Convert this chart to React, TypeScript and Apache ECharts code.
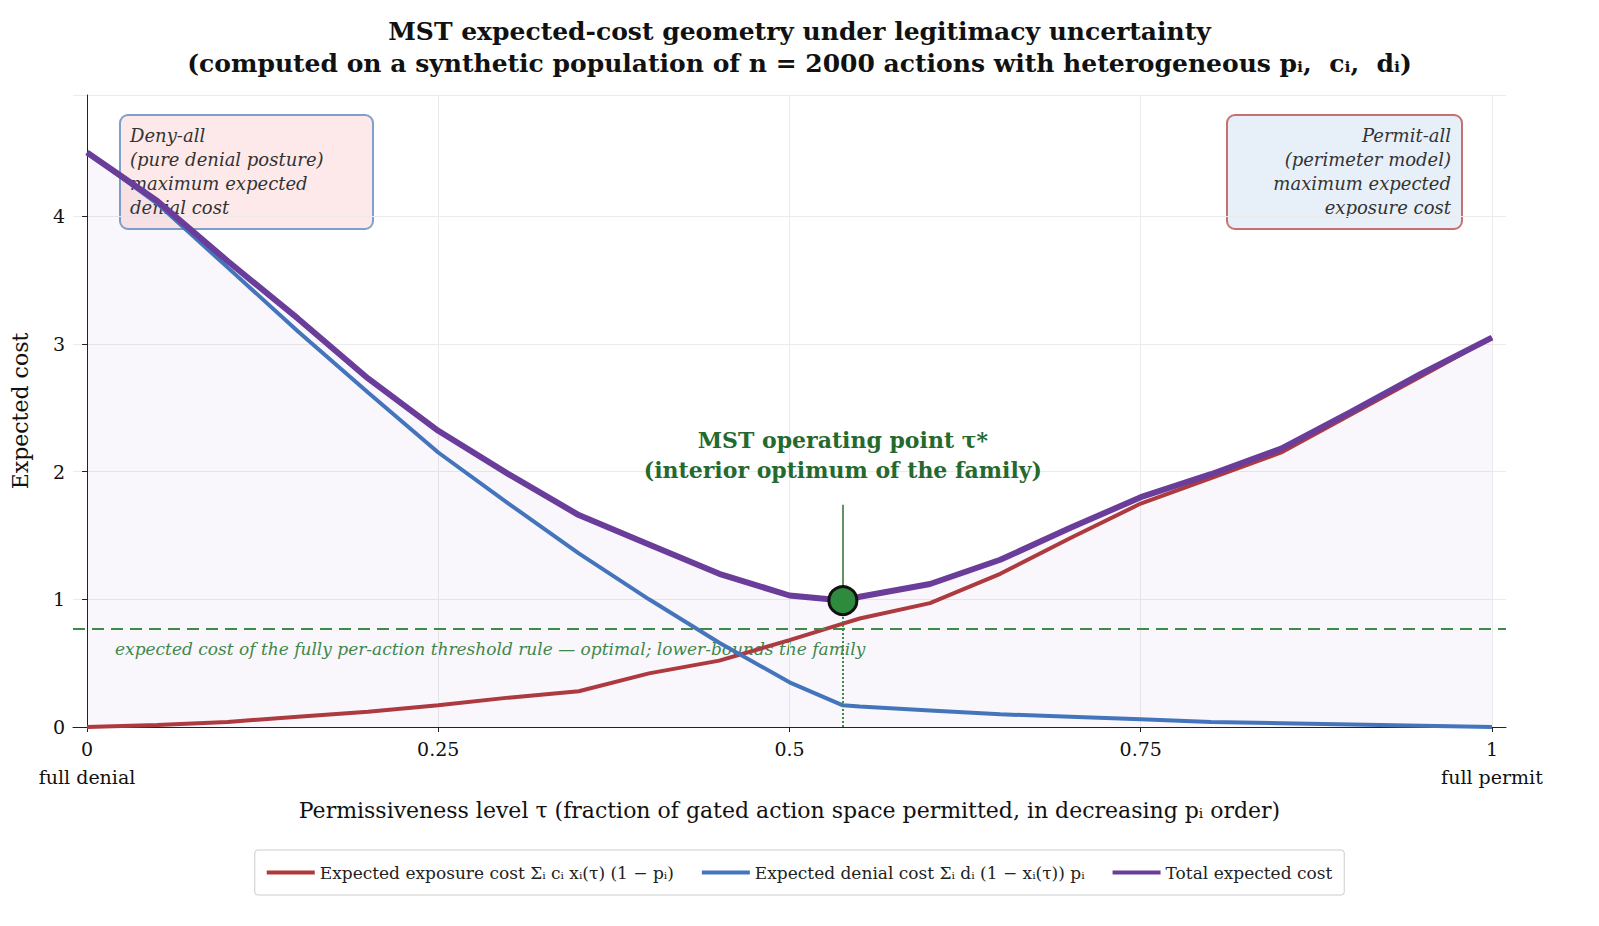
import React, { useEffect, useRef } from 'react';
import * as echarts from 'echarts';

const tau = [0, 0.05, 0.1, 0.15, 0.2, 0.25, 0.3, 0.35, 0.4, 0.45, 0.5, 0.538, 0.55, 0.6, 0.65, 0.7, 0.75, 0.8, 0.85, 0.9, 0.95, 1.0];
const exposure = [0, 0.015, 0.04, 0.08, 0.12, 0.17, 0.23, 0.28, 0.42, 0.52, 0.68, 0.81, 0.85, 0.97, 1.2, 1.48, 1.75, 1.95, 2.15, 2.45, 2.75, 3.05];
const denial = [4.5, 4.1, 3.6, 3.1, 2.62, 2.15, 1.75, 1.36, 1.0, 0.66, 0.35, 0.17, 0.16, 0.13, 0.1, 0.08, 0.06, 0.04, 0.03, 0.02, 0.01, 0];
const total = [4.5, 4.12, 3.65, 3.2, 2.73, 2.32, 1.98, 1.66, 1.43, 1.2, 1.03, 0.99, 1.02, 1.12, 1.31, 1.56, 1.8, 1.98, 2.18, 2.47, 2.77, 3.05];
const tauStar = 0.538;
const costStar = 0.99;
const thresholdCost = 0.77;
const xTicks = [0, 0.25, 0.5, 0.75, 1];

const FONT = '"DejaVu Serif", serif';

export default function App() {
  const ref = useRef<HTMLDivElement>(null);

  useEffect(() => {
    if (!ref.current) return;
    const chart = echarts.init(ref.current, undefined, { renderer: 'svg' });
    const pts = (ys: number[]) => tau.map((t, i) => [t, ys[i]]);

    chart.setOption({
      animation: false,
      textStyle: { fontFamily: FONT },
      title: {
        text: 'MST expected-cost geometry under legitimacy uncertainty\n(computed on a synthetic population of n = 2000 actions with heterogeneous pᵢ,  cᵢ,  dᵢ)',
        left: 'center',
        top: 2,
        textStyle: { fontFamily: FONT, fontSize: 25, fontWeight: 'bold', color: '#111', lineHeight: 32 },
      },
      grid: { left: 65, right: 85, top: 87, bottom: 191, outerBoundsMode: 'none' },
      legend: {
        bottom: 23,
        left: 'center',
        itemWidth: 48,
        itemHeight: 4,
        itemGap: 28,
        padding: [14, 12],
        borderColor: '#ccc',
        borderWidth: 1,
        borderRadius: 3,
        icon: 'rect',
        textStyle: { fontFamily: FONT, fontSize: 17, color: '#222' },
        data: ['exp', 'den', 'tot'],
        formatter: (n: string) =>
          n === 'exp'
            ? 'Expected exposure cost Σᵢ cᵢ xᵢ(τ) (1 − pᵢ)'
            : n === 'den'
            ? 'Expected denial cost Σᵢ dᵢ (1 − xᵢ(τ)) pᵢ'
            : 'Total expected cost',
      },
      xAxis: {
        type: 'value',
        min: -0.01,
        max: 1.01,
        name: 'Permissiveness level τ (fraction of gated action space permitted, in decreasing pᵢ order)',
        nameLocation: 'middle',
        nameGap: 72,
        nameTextStyle: { fontFamily: FONT, fontSize: 22, color: '#111' },
        axisLine: { lineStyle: { color: '#222' } },
        axisTick: { customValues: xTicks, lineStyle: { color: '#222' } },
        axisLabel: {
          customValues: xTicks,
          fontSize: 19,
          color: '#111',
          lineHeight: 28,
          formatter: (v: number) =>
            v === 0 ? '0\nfull denial' : v === 1 ? '1\nfull permit' : String(v),
        },
        splitLine: { show: true, lineStyle: { color: '#ebebeb' } },
      },
      yAxis: {
        type: 'value',
        min: 0,
        max: 4.95,
        interval: 1,
        name: 'Expected cost',
        nameLocation: 'middle',
        nameGap: 42,
        nameTextStyle: { fontFamily: FONT, fontSize: 22, color: '#111' },
        axisLine: { show: true, lineStyle: { color: '#222' } },
        axisTick: { show: true, lineStyle: { color: '#222' } },
        axisLabel: { fontSize: 19, color: '#111', showMaxLabel: false },
        splitLine: { lineStyle: { color: '#ebebeb' } },
      },
      series: [
        {
          name: 'tot',
          type: 'line',
          data: pts(total),
          symbol: 'none',
          z: 4,
          lineStyle: { color: '#6a3d9a', width: 6 },
          itemStyle: { color: '#6a3d9a' },
          areaStyle: { color: 'rgba(106,61,154,0.06)' },
        },
        {
          name: 'exp',
          type: 'line',
          data: pts(exposure),
          symbol: 'none',
          z: 3,
          lineStyle: { color: '#b03a3a', width: 4 },
          itemStyle: { color: '#b03a3a' },
        },
        {
          name: 'den',
          type: 'line',
          data: pts(denial),
          symbol: 'none',
          z: 3,
          lineStyle: { color: '#4277bd', width: 4 },
          itemStyle: { color: '#4277bd' },
          markLine: {
            silent: true,
            symbol: 'none',
            label: { show: false },
            data: [
              { yAxis: thresholdCost, lineStyle: { color: '#3d8a4a', type: [12, 7], width: 2 } },
              [
                { coord: [tauStar, 0], lineStyle: { color: '#3d8a4a', type: 'dotted', width: 2 } },
                { coord: [tauStar, costStar] },
              ],
              [
                { coord: [tauStar, costStar], lineStyle: { color: '#2e6b34', type: 'solid', width: 1.5 } },
                { coord: [tauStar, 1.74] },
              ],
            ],
          },
        },
        {
          type: 'scatter',
          data: [[tauStar, costStar]],
          symbolSize: 28,
          z: 10,
          itemStyle: { color: '#2e8b3e', borderColor: '#111', borderWidth: 3, opacity: 1 },
          label: {
            show: true,
            position: 'top',
            distance: 100,
            formatter: 'MST operating point τ*\n(interior optimum of the family)',
            fontFamily: FONT,
            fontSize: 22,
            fontWeight: 'bold',
            color: '#25692f',
            opacity: 1,
            lineHeight: 30,
            align: 'center',
          },
        },
      ],
      graphic: [
        {
          type: 'text',
          left: 107,
          top: 632,
          style: {
            text: 'expected cost of the fully per-action threshold rule — optimal; lower-bounds the family',
            font: `italic 17px ${FONT}`,
            fill: '#3d8a4a',
          },
        },
        {
          type: 'group',
          left: 111,
          top: 106,
          children: [
            { type: 'rect', shape: { width: 253, height: 114, r: 8 }, style: { fill: 'rgba(253,232,232,0.95)', stroke: '#7ea0cc', lineWidth: 2 } },
            {
              type: 'text', x: 10, y: 8,
              style: { text: 'Deny-all\n(pure denial posture)\nmaximum expected\ndenial cost', font: `italic 18px ${FONT}`, fill: '#333', lineHeight: 24, verticalAlign: 'top' },
            },
          ],
        },
        {
          type: 'group',
          left: 1218,
          top: 106,
          children: [
            { type: 'rect', shape: { width: 235, height: 114, r: 8 }, style: { fill: 'rgba(230,238,248,0.95)', stroke: '#c87070', lineWidth: 2 } },
            {
              type: 'text', x: 224, y: 8,
              style: { text: 'Permit-all\n(perimeter model)\nmaximum expected\nexposure cost', font: `italic 18px ${FONT}`, fill: '#333', lineHeight: 24, align: 'right', verticalAlign: 'top' },
            },
          ],
        },
      ],
    });

    return () => chart.dispose();
  }, []);

  return <div ref={ref} style={{ width: 1583, height: 910 }} />;
}
